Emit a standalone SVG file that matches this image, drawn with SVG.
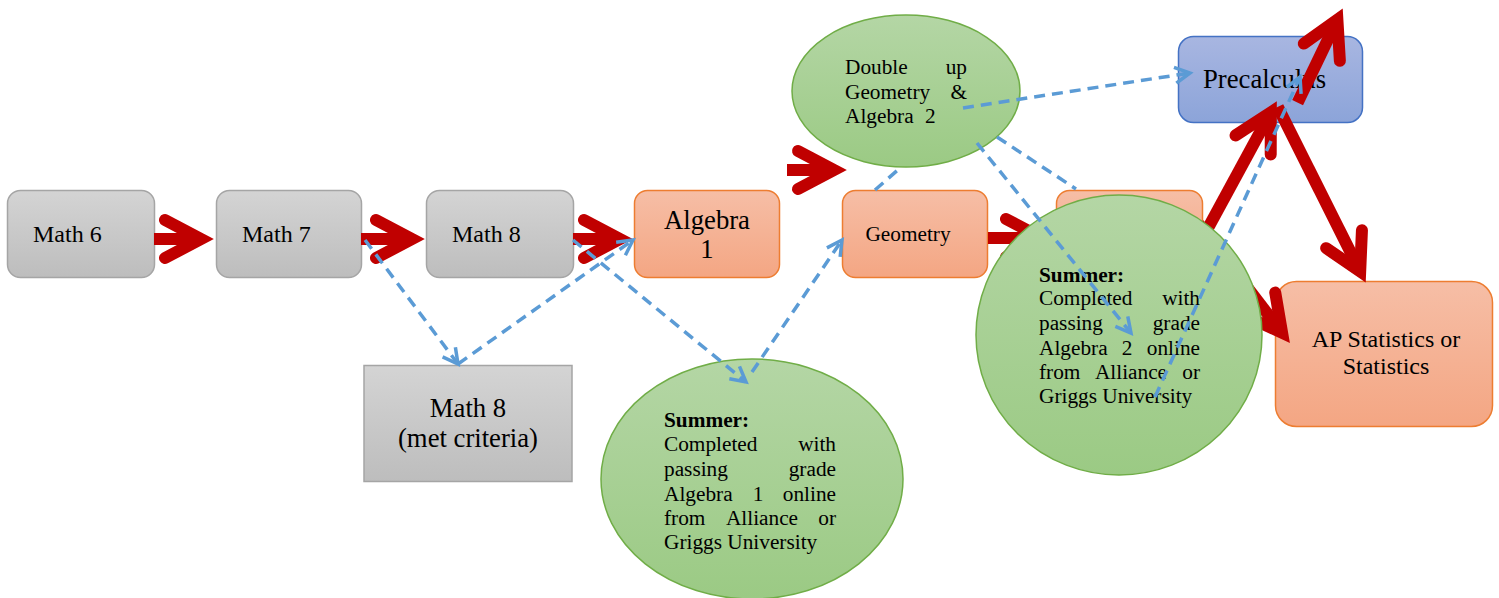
<svg xmlns="http://www.w3.org/2000/svg" width="1499" height="598" viewBox="0 0 1499 598">
<style>
text{font-family:"Liberation Serif","Times New Roman",serif;fill:#000}
.gray{fill:url(#gGray);stroke:#a5a5a5;stroke-width:1.5}
.orange{fill:url(#gOrange);stroke:#ed7d31;stroke-width:1.5}
.blue{fill:url(#gBlue);stroke:#4472c4;stroke-width:1.5}
.green{fill:url(#gGreen);stroke:#70ad47;stroke-width:1.5}
.red line{stroke:#c00000;stroke-width:12;stroke-linecap:butt}
.red polyline{fill:none;stroke:#c00000;stroke-width:12;stroke-linejoin:miter;stroke-linecap:round}
.dash{fill:none;stroke:#5b9bd5;stroke-width:3.5;stroke-dasharray:11 7}
.arr{marker-end:url(#ba)}
.t21{font-size:21.3px}
.b{font-weight:bold}
</style>
<defs>
<linearGradient id="gGray" x1="0" y1="0" x2="0" y2="1"><stop offset="0" stop-color="#d4d4d4"/><stop offset="1" stop-color="#bdbdbd"/></linearGradient>
<linearGradient id="gOrange" x1="0" y1="0" x2="0" y2="1"><stop offset="0" stop-color="#f6bea6"/><stop offset="1" stop-color="#f4a683"/></linearGradient>
<linearGradient id="gBlue" x1="0" y1="0" x2="0" y2="1"><stop offset="0" stop-color="#a8b6e1"/><stop offset="1" stop-color="#8ca4d9"/></linearGradient>
<linearGradient id="gGreen" x1="0" y1="0" x2="0" y2="1"><stop offset="0" stop-color="#b4d6a5"/><stop offset="1" stop-color="#9bca84"/></linearGradient>
<marker id="ba" markerUnits="userSpaceOnUse" orient="auto" refX="0" refY="0" markerWidth="1" markerHeight="1" overflow="visible"><path d="M-15,-8 L0,0 L-15,8" fill="none" stroke="#5b9bd5" stroke-width="3.5"/></marker>
</defs>

<g id="math6"><rect class="gray" x="7.5" y="190.5" width="147" height="87" rx="13"/><text x="33" y="242" font-size="24">Math 6</text></g>
<g id="math7"><rect class="gray" x="216.5" y="190.5" width="145" height="87" rx="13"/><text x="242" y="242" font-size="24">Math 7</text></g>
<g id="math8"><rect class="gray" x="426.5" y="190.5" width="147" height="87" rx="13"/><text x="452" y="242" font-size="24">Math 8</text></g>
<g id="math8met"><rect class="gray" x="364" y="365.5" width="208" height="116"/><text x="468" y="417" font-size="26.7" text-anchor="middle">Math 8</text><text x="468" y="447" font-size="26.7" text-anchor="middle">(met criteria)</text></g>
<g id="algebra1"><rect class="orange" x="634.5" y="190.5" width="145" height="87" rx="13"/><text x="707" y="229" font-size="26.7" text-anchor="middle">Algebra</text><text x="707" y="258" font-size="26.7" text-anchor="middle">1</text></g>
<g id="geometry"><rect class="orange" x="842.5" y="190.5" width="145" height="87" rx="13"/><text x="908" y="241" class="t21" text-anchor="middle">Geometry</text></g>
<g id="hiddenbox"><rect class="orange" x="1056.5" y="190.5" width="146" height="87" rx="13"/></g>
<g id="precalculus"><rect class="blue" x="1178.5" y="36.5" width="184" height="86" rx="15"/><text x="1203" y="88" font-size="26.7">Precalculus</text></g>
<g id="apstats"><rect class="orange" x="1275.5" y="281.5" width="217" height="145" rx="21"/><text x="1386" y="347" font-size="24" text-anchor="middle">AP Statistics or</text><text x="1386" y="374" font-size="24" text-anchor="middle">Statistics</text></g>

<g id="red-arrows" class="red">
<g transform="translate(214,239)"><line x1="-60" y1="0" x2="-13" y2="0"/><polyline points="-49,-19 -13,0 -49,19"/></g>
<g transform="translate(425,239)"><line x1="-64" y1="0" x2="-13" y2="0"/><polyline points="-49,-19 -13,0 -49,19"/></g>
<g transform="translate(633,239)"><line x1="-60" y1="0" x2="-13" y2="0"/><polyline points="-49,-19 -13,0 -49,19"/></g>
<g transform="translate(847,170)"><line x1="-60" y1="0" x2="-13" y2="0"/><polyline points="-49,-19 -13,0 -49,19"/></g>
<g transform="translate(1055,238)"><line x1="-67" y1="0" x2="-13" y2="0"/><polyline points="-49,-19 -13,0 -49,19"/></g>
<g transform="translate(1277,101) rotate(-61.5)"><line x1="-160" y1="0" x2="-13" y2="0"/><polyline points="-50,-20 -13,0 -50,20"/></g>
<g transform="translate(1343,8) rotate(-64.4)"><line x1="-105" y1="0" x2="-13" y2="0"/><polyline points="-49,-20 -13,0 -49,20"/></g>
<g transform="translate(1366,283) rotate(63.4)"><line x1="-197" y1="0" x2="-13" y2="0"/><polyline points="-49,-20 -13,0 -49,20"/></g>
<g transform="translate(1290,343) rotate(52.5)"><line x1="-150" y1="0" x2="-13" y2="0"/><polyline points="-49,-19 -13,0 -49,19"/></g>
</g>

<g id="doubleup"><ellipse class="green" cx="906" cy="91" rx="114" ry="76"/>
<text class="t21" y="74"><tspan x="845">Double</tspan><tspan x="967" text-anchor="end">up</tspan></text>
<text class="t21" y="99"><tspan x="845">Geometry</tspan><tspan x="967" text-anchor="end">&amp;</tspan></text>
<text class="t21" y="123"><tspan x="845">Algebra</tspan><tspan x="925">2</tspan></text>
</g>
<g id="summer1"><ellipse class="green" cx="752" cy="479" rx="151" ry="120"/>
<text class="t21 b" x="664" y="427">Summer:</text>
<text class="t21" y="451"><tspan x="664">Completed</tspan><tspan x="836" text-anchor="end">with</tspan></text>
<text class="t21" y="476"><tspan x="664">passing</tspan><tspan x="836" text-anchor="end">grade</tspan></text>
<text class="t21" y="501"><tspan x="664">Algebra</tspan><tspan x="758" text-anchor="middle">1</tspan><tspan x="836" text-anchor="end">online</tspan></text>
<text class="t21" y="525"><tspan x="664">from</tspan><tspan x="762" text-anchor="middle">Alliance</tspan><tspan x="836" text-anchor="end">or</tspan></text>
<text class="t21" x="664" y="549">Griggs University</text>
</g>
<g id="summer2"><ellipse class="green" cx="1119" cy="335" rx="143" ry="140"/>
<text class="t21 b" x="1039" y="282">Summer:</text>
<text class="t21" y="305"><tspan x="1039">Completed</tspan><tspan x="1200" text-anchor="end">with</tspan></text>
<text class="t21" y="330"><tspan x="1039">passing</tspan><tspan x="1200" text-anchor="end">grade</tspan></text>
<text class="t21" y="355"><tspan x="1039">Algebra</tspan><tspan x="1127" text-anchor="middle">2</tspan><tspan x="1200" text-anchor="end">online</tspan></text>
<text class="t21" y="379"><tspan x="1039">from</tspan><tspan x="1131" text-anchor="middle">Alliance</tspan><tspan x="1200" text-anchor="end">or</tspan></text>
<text class="t21" x="1039" y="403">Griggs University</text>
</g>

<g id="dashed-connectors">
<line class="dash arr" x1="365" y1="240" x2="458" y2="364"/>
<line class="dash arr" x1="458" y1="364" x2="633" y2="240"/>
<line class="dash arr" x1="573" y1="240" x2="746" y2="382"/>
<line class="dash arr" x1="752" y1="372" x2="842" y2="240"/>
<line class="dash" x1="875" y1="190" x2="900" y2="168"/>
<line class="dash arr" x1="963" y1="108" x2="1190" y2="73"/>
<line class="dash" x1="997" y1="137" x2="1076" y2="189"/>
<line class="dash arr" x1="977" y1="143" x2="1131" y2="333"/>
<line class="dash arr" x1="1155" y1="397" x2="1300" y2="77"/>
</g>
</svg>
